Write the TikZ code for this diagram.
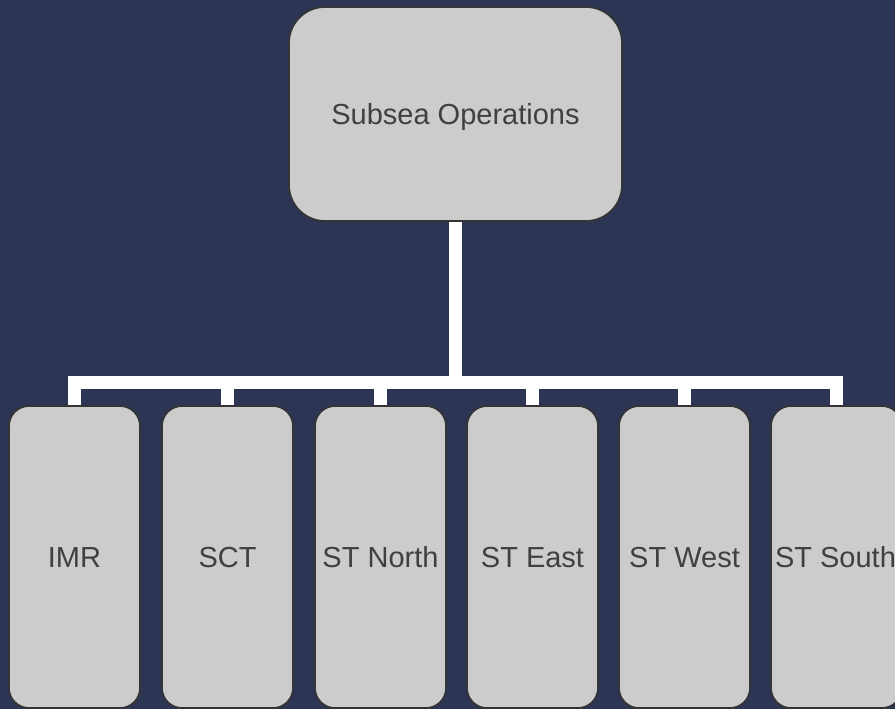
\documentclass[tikz,border=0pt]{standalone}
\usepackage{fontspec}
\setmainfont{Liberation Sans}
\definecolor{navy}{RGB}{44,54,84}
\definecolor{boxfill}{RGB}{204,204,204}
\definecolor{boxline}{RGB}{52,52,52}
\definecolor{txt}{RGB}{64,64,64}
\pgfdeclarelayer{back}
\pgfdeclarelayer{links}
\pgfsetlayers{back,links,main}
\begin{document}
\begin{tikzpicture}[x=1pt,y=-1pt,
  unitbox/.style={draw=boxline,fill=boxfill,line width=1.7pt,
    text=txt,font=\fontsize{29}{34}\selectfont,inner sep=0pt,
    text height=20.8pt,text depth=0pt},
  headbox/.style={unitbox,minimum width=333pt,minimum height=214pt,rounded corners=36pt},
  teambox/.style={unitbox,minimum width=131pt,minimum height=302pt,rounded corners=20pt},
  link/.style={draw=white,line width=12.5pt,line join=miter}]
\begin{pgfonlayer}{back}
\fill[navy] (0,0) rectangle (895,709);
\end{pgfonlayer}
\useasboundingbox (0,0) rectangle (895,709);
\clip (0,0) rectangle (895,709);

% head of the department
\node[headbox] (head) at (455.5,114) {Subsea Operations};

% the six teams
\node[teambox] (imr)   at (74.5,557)  {IMR};
\node[teambox] (sct)   at (227.5,557) {SCT};
\node[teambox] (north) at (380.5,557) {ST North};
\node[teambox] (east)  at (532.5,557) {ST East};
\node[teambox] (west)  at (684.5,557) {ST West};
\node[teambox] (south) at (836.5,557) {\hspace*{-2pt}ST South};

% connectors, drawn behind the boxes
\coordinate (bar) at (0,382.5);
\begin{pgfonlayer}{links}
\draw[link] (imr.north) |- (bar -| south.north) -- (south.north);
\draw[link] (head.south) -- (head.south |- bar);
\foreach \t in {sct,north,east,west}
  \draw[link] (\t.north) -- (\t.north |- bar);
\end{pgfonlayer}
\end{tikzpicture}
\end{document}
